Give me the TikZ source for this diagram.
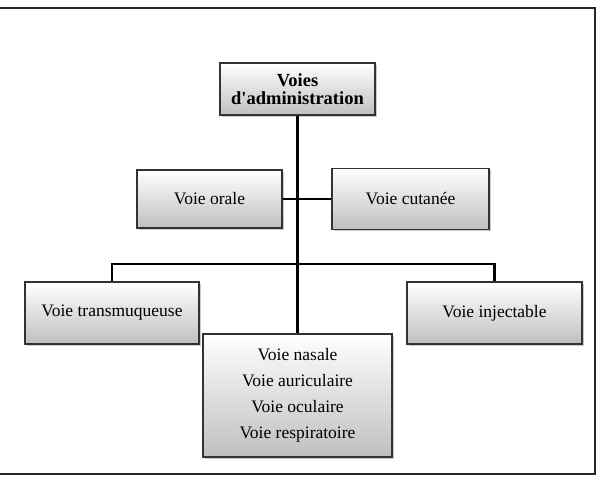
\documentclass[tikz,border=0pt]{standalone}
\usepackage{fontspec}
\setmainfont{Liberation Serif}
\usetikzlibrary{shadows}

\begin{document}
\begin{tikzpicture}[
  x=1pt, y=-1pt,
  voie/.style={draw=black!80, line width=1.3pt, align=center, inner sep=2pt,
               top color=white, bottom color=black!25,
               drop shadow={shadow xshift=2pt, shadow yshift=-2pt, opacity=0.35, fill=black!60},
               font=\fontsize{17.5}{26}\selectfont},
  titre/.style={voie, font=\fontsize{18.5}{18}\selectfont\bfseries},
  lien/.style={line width=2.8pt, black}
]
\useasboundingbox (0,0) rectangle (603,478);
\draw[line width=2.2pt, black!85] (-2,8) rectangle (595,474);

\node[titre, minimum width=155pt, minimum height=52pt] (adm) at (297.5,89) {Voies\\d\textquotesingle administration};
\node[voie, minimum width=145pt, minimum height=58pt] (orale) at (209.5,199) {Voie orale};
\node[voie, minimum width=157pt, minimum height=61pt] (cutanee) at (410.5,199) {Voie cutanée};
\node[voie, minimum width=174pt, minimum height=62pt] (trans) at (112,313) {Voie transmuqueuse};
\node[voie, minimum width=175pt, minimum height=62pt] (inject) at (494.5,313) {Voie injectable};
\node[voie, minimum width=189pt, minimum height=123pt] (autres) at (297.5,395.5)
  {Voie nasale\\Voie auriculaire\\Voie oculaire\\Voie respiratoire};

\coordinate (barre) at (298,264);

\draw[lien] (adm) -- (autres);
\draw[lien] (orale) -- (cutanee);
\draw[lien] (trans.north) |- (barre) -| (inject.north);

\end{tikzpicture}
\end{document}
